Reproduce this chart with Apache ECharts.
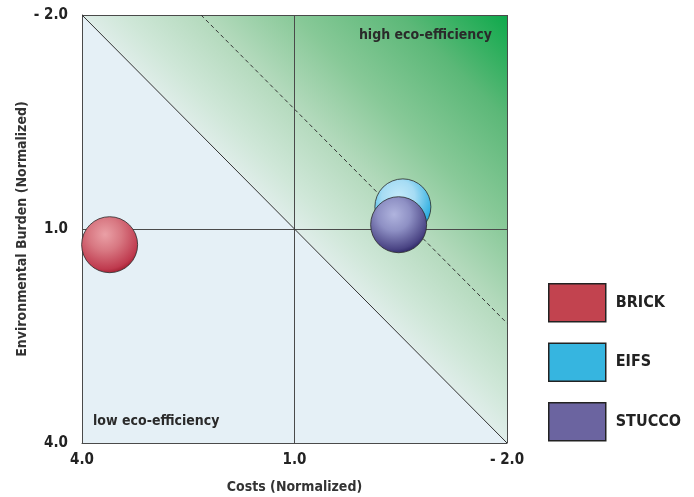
<!DOCTYPE html>
<html><head><meta charset="utf-8">
<script src="https://cdn.jsdelivr.net/npm/echarts@6/dist/echarts.min.js"></script>
<style>html,body{margin:0;padding:0;background:#fff}#c{width:694px;height:497px}</style>
</head><body><div id="c"></div>
<script>
// ---- data ----
const axisTicks = [-2, 1, 4];
const seriesNames = ['BRICK', 'EIFS', 'STUCCO'];
const costs = [3.61, -0.53, -0.47];          // x (Costs, normalized)
const burden = [1.22, 0.69, 0.94];           // y (Environmental Burden, normalized)
const highRegion = [[4, -2], [-2, -2], [-2, 4]];   // upper-right triangle
const diagonal = [[4, -2], [-2, 4]];
const dashedLine = [[2.32, -2], [-2, 2.32]];

const FONT = "'Liberation Sans Narrow','DejaVu Sans Condensed','Liberation Sans',sans-serif";
const legendColors = ['#c2434f', '#36b5e0', '#6b64a0'];
const bubbleStops = [
  ['#eaa0a6', '#d87882', '#bf3a4e', '#9a1628'],
  ['#c4eafa', '#a6dcf4', '#30b0e2', '#0c8cc6'],
  ['#b0b4de', '#8e90c4', '#4a4484', '#241e5c']
];
function fmt(v){ return v < 0 ? '- ' + Math.abs(v).toFixed(1) : v.toFixed(1); }

const chart = echarts.init(document.getElementById('c'), null, {renderer:'canvas'});
const axisCommon = {
  type: 'value', min: -2, max: 4, interval: 3, inverse: true, z: 3,
  axisLine: {show: true, onZero: false, lineStyle: {color: '#4a4a4a', width: 1}},
  axisTick: {show: false},
  splitLine: {show: true, lineStyle: {color: '#4a4a4a', width: 1}},
  nameLocation: 'middle', nameMoveOverlap: false,
  nameTextStyle: {fontFamily: FONT, fontWeight: 'bold', fontSize: 14, color: '#333'},
  axisLabel: {fontFamily: FONT, fontWeight: 'bold', fontSize: 15, color: '#222', formatter: fmt}
};
const scatterSeries = seriesNames.map((n, i) => ({
  name: n, type: 'scatter', symbolSize: 56, z: 5 + i,
  data: [[costs[i], burden[i]]],
  itemStyle: {
    color: {type: 'radial', x: 0.42, y: 0.32, r: 0.72, colorStops: [
      {offset: 0, color: bubbleStops[i][0]},
      {offset: 0.4, color: bubbleStops[i][1]},
      {offset: 0.85, color: bubbleStops[i][2]},
      {offset: 1, color: bubbleStops[i][3]}]},
    borderColor: '#2a2a2a', borderWidth: 0.8, opacity: 1
  },
  emphasis: {disabled: true}
}));
chart.setOption({
  animation: false,
  grid: {left: 82, top: 15, width: 425, height: 428, outerBoundsMode: 'none', containLabel: false,
         show: true, backgroundColor: '#e5f0f6', borderWidth: 0},
  xAxis: Object.assign({}, axisCommon, {
    name: 'Costs (Normalized)', nameGap: 37,
    axisLabel: Object.assign({}, axisCommon.axisLabel, {margin: 10})
  }),
  yAxis: Object.assign({}, axisCommon, {
    name: 'Environmental Burden (Normalized)', nameGap: 53,
    axisLabel: Object.assign({}, axisCommon.axisLabel, {margin: 14})
  }),
  legend: {
    orient: 'vertical', left: 548, top: 283, icon: 'rect', padding: 0,
    itemWidth: 57, itemHeight: 38, itemGap: 20,
    textStyle: {fontFamily: FONT, fontWeight: 'bold', fontSize: 16, color: '#222', padding: [0, 0, 0, 5]},
    itemStyle: {borderColor: '#222', borderWidth: 1.5},
    data: seriesNames.map((n, i) => ({name: n, itemStyle: {color: legendColors[i], borderColor: '#222', borderWidth: 1.5}})),
    selectedMode: false
  },
  graphic: [
    {type: 'text', z: 100, right: 694 - 492, top: 28, style: {text: 'high eco-efficiency', font: 'bold 14px ' + FONT, fill: '#2a2a2a'}},
    {type: 'text', z: 100, left: 93, top: 414, style: {text: 'low eco-efficiency', font: 'bold 14px ' + FONT, fill: '#2a2a2a'}}
  ],
  series: [
    {
      type: 'custom', z: 1, silent: true,
      data: [0],
      renderItem: function(params, api){
        const pts = highRegion.map(p => api.coord(p));
        return {type: 'polygon', shape: {points: pts}, style: {
          fill: {type: 'linear', x: 0.5, y: 0.5, x2: 1, y2: 0, colorStops: [
            {offset: 0, color: '#dfede9'},
            {offset: 0.1, color: '#cfe7d8'},
            {offset: 0.3, color: '#b2d9bb'},
            {offset: 0.5, color: '#88c998'},
            {offset: 0.75, color: '#5cb878'},
            {offset: 1, color: '#0ea94b'}]}
        }};
      }
    },
    {type: 'line', z: 4, silent: true, symbol: 'none', data: diagonal, lineStyle: {color: '#333', width: 1}},
    {type: 'line', z: 4, silent: true, symbol: 'none', data: dashedLine, lineStyle: {color: '#333', width: 1, type: [4, 3]}}
  ].concat(scatterSeries)
});
</script>
</body></html>
